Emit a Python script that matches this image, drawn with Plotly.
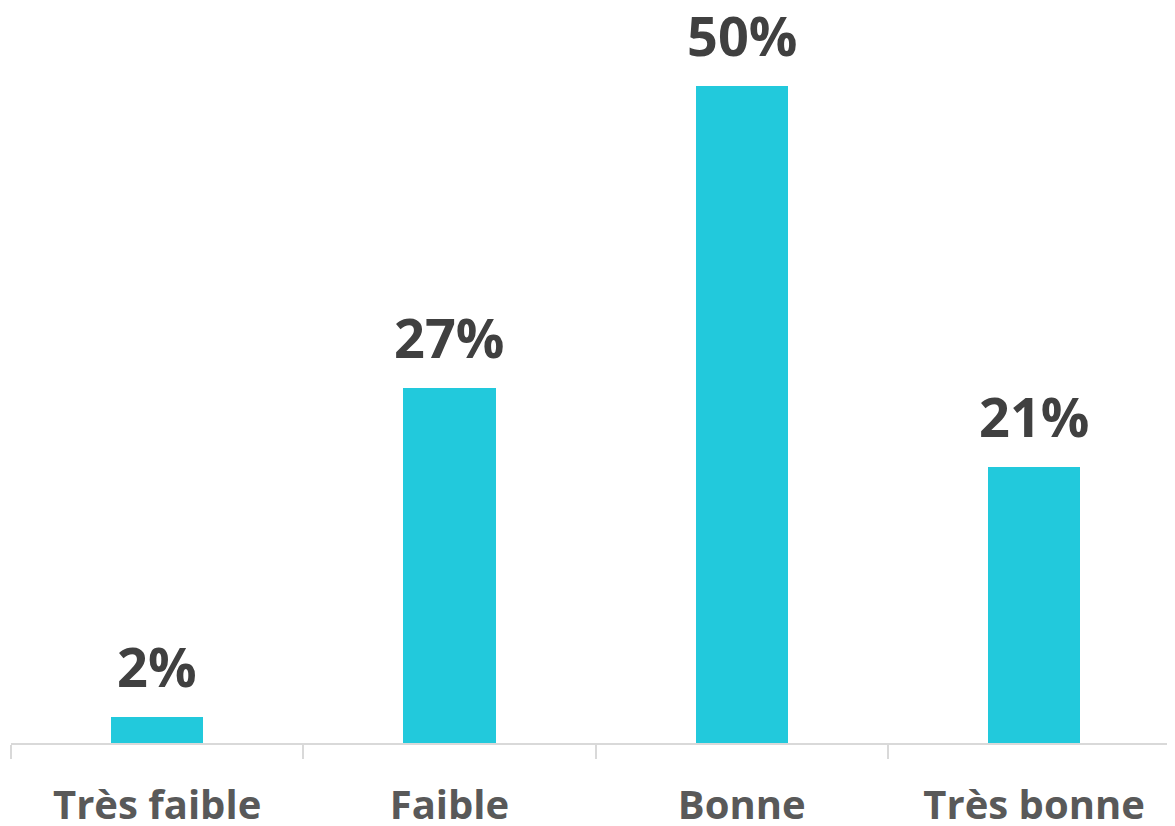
import plotly.graph_objects as go

categories = ["Très faible", "Faible", "Bonne", "Très bonne"]
values = [2, 27, 50, 21]
labels = ["2%", "27%", "50%", "21%"]

fig = go.Figure()
fig.add_trace(go.Bar(
    x=categories, y=values,
    marker=dict(color="#22C9DC", line=dict(width=0)),
    width=0.315,
    hoverinfo="skip",
))
for c, v, t in zip(categories, values, labels):
    fig.add_annotation(x=c, y=v, text="<b>%s</b>" % t, showarrow=False,
                       yanchor="bottom", yshift=12,
                       font=dict(family="Open Sans", size=54, color="#404040"))

fig.update_layout(
    width=1167, height=818,
    margin=dict(l=3, r=0, t=0, b=83, autoexpand=False),
    paper_bgcolor="white", plot_bgcolor="white",
    showlegend=False,
    bargap=0,
)
fig.update_xaxes(
    range=[-0.5, 3.482],
    showline=True, linecolor="#D9D9D9", linewidth=2,
    ticks="outside", tickson="boundaries", ticklen=14, tickcolor="#D9D9D9", tickwidth=2,
    tickfont=dict(family="Open Sans", size=40, color="#595959", weight="bold"),
    ticklabelstandoff=26,
    automargin=False,
    showgrid=False,
)
fig.update_yaxes(range=[0, 55.94], visible=False, showgrid=False, automargin=False)

fig.write_html("out.html")
